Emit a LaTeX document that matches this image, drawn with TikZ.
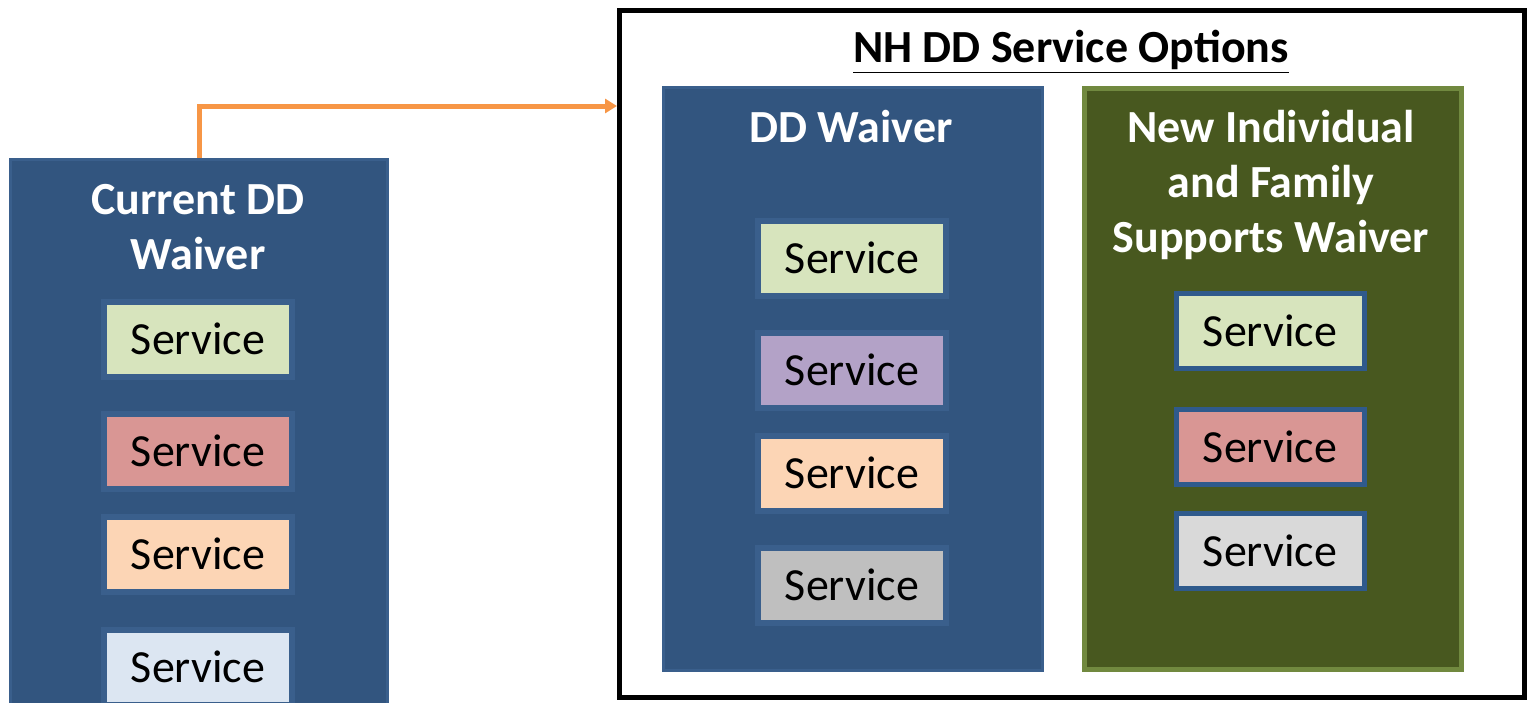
\documentclass[tikz,border=0pt]{standalone}
\usepackage{fontspec}
\setmainfont{Carlito}
\usetikzlibrary{arrows.meta,calc}
\definecolor{waiverblue}{HTML}{32557F}
\definecolor{waiverrim}{HTML}{3A5F8C}
\definecolor{familygreen}{HTML}{48581F}
\definecolor{familyrim}{HTML}{71893F}
\definecolor{svcrim}{HTML}{2F5A8C}
\definecolor{flowline}{HTML}{F79646}
\definecolor{svcgreen}{HTML}{D7E4BD}
\definecolor{svcred}{HTML}{D99694}
\definecolor{svcpeach}{HTML}{FCD5B5}
\definecolor{svcblue}{HTML}{DCE6F2}
\definecolor{svcpurple}{HTML}{B3A2C7}
\definecolor{svcgray}{HTML}{BFBFBF}
\definecolor{svclight}{HTML}{D9D9D9}
\tikzset{
    >={Triangle[length=6pt,width=7pt]},
    waiver/.style={draw=waiverrim, fill=waiverblue, line width=1.5pt, inner sep=0pt},
    family/.style={draw=familyrim, fill=familygreen, line width=2.5pt, inner sep=0pt},
    heading/.style={text=white, align=center, font=\bfseries\fontsize{23}{27.5}\selectfont},
    service/.style={draw=waiverrim, fill=#1, line width=3pt, minimum width=94pt,
        minimum height=37.5pt, inner sep=0pt, font=\fontsize{23}{27}\selectfont},
    famservice/.style={service=#1, draw=svcrim, line width=2.5pt},
    flow/.style={->, draw=flowline, line width=2.5pt},
}
\begin{document}
\begin{tikzpicture}[x=0.5pt,y=-0.5pt]
    \useasboundingbox (0,0) rectangle (1530,702);
    \clip (0,0) rectangle (1530,702);

    % current waiver
    \node[waiver, minimum width=188.5pt, minimum height=290pt, anchor=north] (cur) at (199,157.5) {};
    \node[heading] (curtitle) at (198,227) {Current DD\\Waiver};
    \foreach \y/\c [count=\i] in {339/svcgreen, 451/svcred, 554/svcpeach, 667/svcblue}
        \node[service=\c] (cur\i) at (198,\y) {Service};

    % new options
    \node[draw=black, line width=2.5pt, minimum width=452.5pt, minimum height=343.5pt,
        inner sep=0pt] (opts) at (1072,354) {};
    \node[font=\bfseries\fontsize{23}{27}\selectfont] (optstitle) at (1071,52)
        {\underline{NH DD Service Options}};

    \node[waiver, minimum width=189.5pt, minimum height=291.5pt] (dd) at (853,379) {};
    \node[heading] (ddtitle) at (851,127) {DD Waiver};
    \foreach \y/\c [count=\i] in {258/svcgreen, 370/svcpurple, 473/svcpeach, 585/svcgray}
        \node[service=\c] (dd\i) at (852,\y) {Service};

    \node[family, minimum width=188.5pt, minimum height=290.5pt] (fam) at (1273,379) {};
    \node[heading] (famtitle) at (1271,185) {New Individual\\and Family\\Supports Waiver};
    \foreach \y/\c [count=\i] in {331/svcgreen, 447/svcred, 551/svclight}
        \node[famservice=\c] (fam\i) at (1270,\y) {Service};

    \draw[flow] (cur.north) |- ([yshift=-49pt]opts.north west);
\end{tikzpicture}
\end{document}
